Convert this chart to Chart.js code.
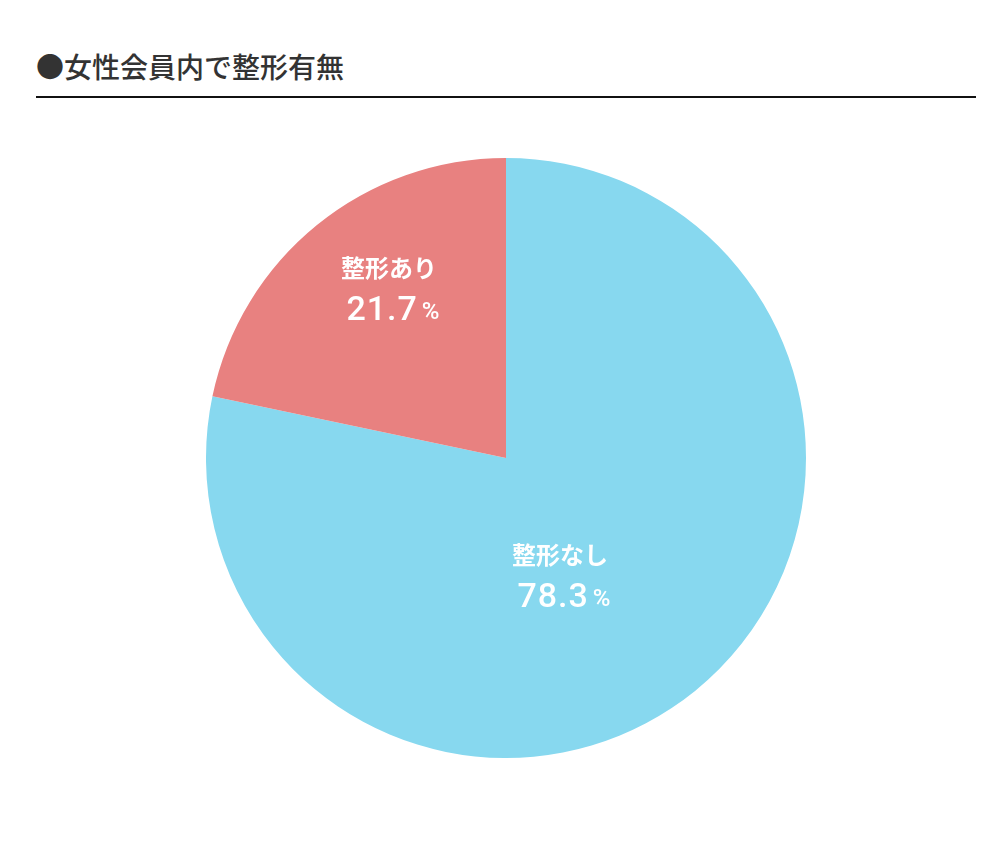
<!DOCTYPE html>
<html><head><meta charset="utf-8">
<script src="https://cdn.jsdelivr.net/npm/chart.js@4/dist/chart.umd.min.js"></script>
<style>
html,body{margin:0;padding:0;background:#fff;width:999px;height:850px;overflow:hidden;}
#title{position:absolute;left:36px;top:48px;font-family:"Noto Sans CJK JP",sans-serif;font-weight:500;font-size:28px;line-height:36px;color:#333;white-space:nowrap;}
#rule{position:absolute;left:36px;top:96px;width:940px;height:2px;background:#111;}
#wrap{position:absolute;left:206px;top:158px;width:600px;height:600px;}
</style></head>
<body>
<div id="title">●女性会員内で整形有無</div>
<div id="rule"></div>
<div id="wrap"><canvas id="c"></canvas></div>
<script>
const categories = ["整形なし", "整形あり"];
const values = [78.3, 21.7];
const colors = ["#87d8ef", "#e88180"];
const labelAnchors = [[0.18, 0.323], [-0.39, -0.633]];

const labelPlugin = {
  id: 'sliceLabels',
  afterDatasetsDraw(chart) {
    const ctx = chart.ctx;
    const meta = chart.getDatasetMeta(0);
    meta.data.forEach((arc, i) => {
      const r = arc.outerRadius;
      const x = arc.x + labelAnchors[i][0] * r;
      const y = arc.y + labelAnchors[i][1] * r;
      ctx.save();
      ctx.fillStyle = '#ffffff';
      ctx.textAlign = 'center';
      ctx.textBaseline = 'middle';
      ctx.font = 'bold 24px "Noto Sans CJK JP", sans-serif';
      ctx.fillText(categories[i], x, y);
      const num = values[i].toFixed(1);
      ctx.font = '500 34px Roboto, sans-serif';
      if ('letterSpacing' in ctx) ctx.letterSpacing = '1px';
      const nw = ctx.measureText(num).width;
      ctx.font = '500 24px Roboto, sans-serif';
      if ('letterSpacing' in ctx) ctx.letterSpacing = '0px';
      const pw = ctx.measureText('%').width;
      const gap = 4;
      const total = nw + gap + pw;
      let sx = x - total / 2 + 4;
      ctx.textAlign = 'left';
      ctx.textBaseline = 'alphabetic';
      ctx.font = '500 34px Roboto, sans-serif';
      if ('letterSpacing' in ctx) ctx.letterSpacing = '1px';
      ctx.fillText(num, sx, y + 52);
      ctx.font = '500 24px Roboto, sans-serif';
      if ('letterSpacing' in ctx) ctx.letterSpacing = '0px';
      ctx.fillText('%', sx + nw + gap, y + 51);
      ctx.restore();
    });
  }
};

new Chart(document.getElementById('c'), {
  type: 'pie',
  data: {
    labels: categories,
    datasets: [{ data: values, backgroundColor: colors, borderWidth: 0 }]
  },
  options: {
    responsive: true,
    maintainAspectRatio: false,
    animation: false,
    layout: { padding: 0 },
    plugins: { legend: { display: false }, tooltip: { enabled: false } }
  },
  plugins: [labelPlugin]
});
</script>
</body></html>
